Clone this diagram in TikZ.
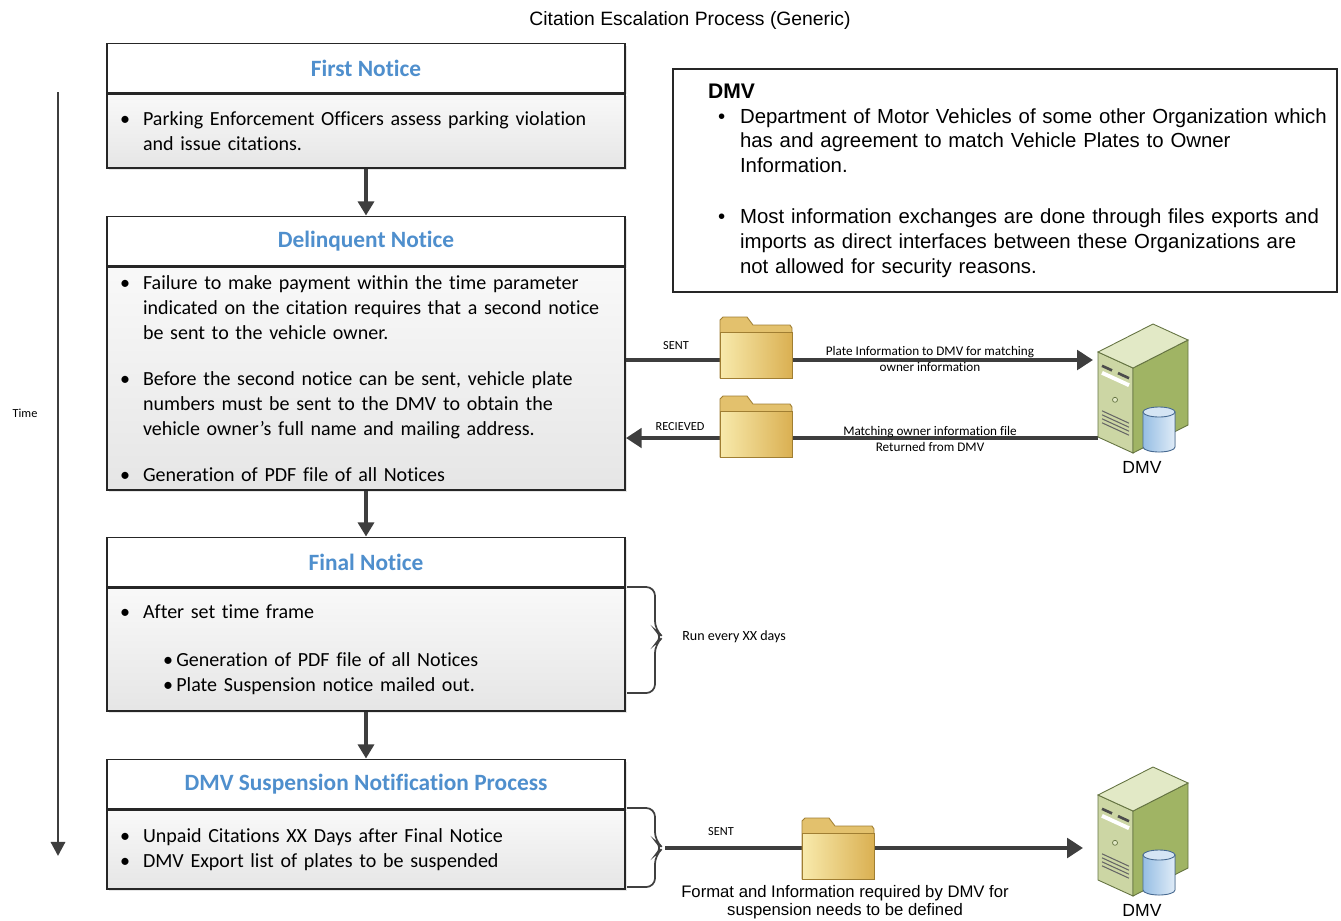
\documentclass[tikz,border=0pt]{standalone}
\usepackage{fontspec}
\setmainfont{Carlito}[Ligatures=NoCommon]
\newfontfamily\arialfont{Liberation Sans}
\usetikzlibrary{arrows.meta}
\usetikzlibrary{positioning}
\usetikzlibrary{shadows}
\definecolor{headBlue}{RGB}{79,143,205}
\definecolor{flowGray}{RGB}{62,62,62}
\definecolor{folderLight}{RGB}{248,234,172}
\definecolor{folderDark}{RGB}{218,176,82}
\definecolor{folderEdge}{RGB}{160,126,50}
\definecolor{srvFront}{RGB}{204,214,164}
\definecolor{srvSide}{RGB}{160,180,100}
\definecolor{srvTop}{RGB}{226,233,198}
\definecolor{srvEdge}{RGB}{100,115,65}
\definecolor{cylBlue}{RGB}{150,190,228}
\definecolor{cylEdge}{RGB}{70,105,145}
\newcommand{\bul}{\makebox[0.52cm][l]{\hspace{0.06cm}\textbullet}}
\newcommand{\ind}{\hspace*{0.52cm}}
\newcommand{\dul}{\makebox[1.24cm][l]{\hspace{0.8cm}\textbullet}}
\newcommand{\dind}{\hspace*{1.24cm}}
\tikzset{stepHead/.style={draw=black!85, line width=1.1pt, fill=white, minimum width=10.36cm, minimum height=0.98cm, font=\fontsize{13.3}{15}\selectfont\bfseries, text=headBlue, drop shadow={opacity=0.2,shadow xshift=0.04cm,shadow yshift=-0.04cm}}}
\tikzset{stepBody/.style={draw=black!85, line width=1.1pt, top color=gray!5, bottom color=gray!20, minimum width=10.36cm, text width=9.96cm, inner xsep=0.2cm, align=left, font=\fontsize{11.4}{14.2}\selectfont, drop shadow={opacity=0.2,shadow xshift=0.04cm,shadow yshift=-0.04cm}}}
\tikzset{flow/.style={draw=flowGray, line width=2.2pt, -{Triangle[length=8pt,width=9pt]}}}
\tikzset{transfer/.style={draw=flowGray, line width=2.6pt, -{Triangle[length=9pt,width=11pt]}}}
\tikzset{tinyLabel/.style={font=\fontsize{7}{8.5}\selectfont, inner sep=0pt, align=center}}
\tikzset{braceLine/.style={draw=black!75, line width=1pt, rounded corners=5pt}}
\tikzset{srvLabel/.style={font=\arialfont\fontsize{10}{12}\selectfont, inner sep=0pt}}
\tikzset{folder/.pic={
  \filldraw[fill=folderDark!70!folderLight, draw=folderEdge, line width=0.5pt] (0,61) -- (0,3) -- (3,0) -- (27,0) -- (33,8) -- (70,8) -- (72,11) -- (72,61) -- cycle;
  \filldraw[left color=folderLight, right color=folderDark, draw=folderEdge, line width=0.5pt] (0,15) -- (72,15) -- (72,61) -- (0,61) -- cycle;
}}
\tikzset{server/.pic={
  \filldraw[fill=srvFront, draw=srvEdge, line width=0.5pt] (0,0) -- (35,16) -- (35,101) -- (0,85) -- cycle;
  \filldraw[fill=srvSide, draw=srvEdge, line width=0.5pt] (35,16) -- (90,-12) -- (90,73) -- (35,101) -- cycle;
  \filldraw[fill=srvTop, draw=srvEdge, line width=0.5pt] (0,0) -- (55,-28) -- (90,-12) -- (35,16) -- cycle;
  % drive bays
  \draw[white, line width=2.2pt] (4,20.8) -- (31,33.2);
  \draw[black!70, line width=1.5pt] (4,13.8) -- (14,18.4) (20,21.1) -- (31,26.2);
  \filldraw[fill=srvTop, draw=srvEdge] (17,47.8) circle[radius=0.05cm];
  \foreach \v in {57,61,65,69} \draw[black!60, line width=0.6pt] (4,1.8+\v) -- (31,14.2+\v);
  % database
  \filldraw[left color=cylBlue, right color=cylBlue!30!white, draw=cylEdge, line width=0.5pt] (45,60) -- (45,95) arc[start angle=180, end angle=360, x radius=0.32cm, y radius=0.1cm] -- (77,60) -- cycle;
  \filldraw[fill=cylBlue!40!white, draw=cylEdge, line width=0.5pt] (61,60) ellipse[x radius=0.32cm, y radius=0.1cm];
}}

\begin{document}
\begin{tikzpicture}[x=0.02cm, y=-0.02cm]
\useasboundingbox (0,0) rectangle (1341,920);

\node[font=\arialfont\fontsize{11}{13}\selectfont] (title) at (690,20) {Citation Escalation Process (Generic)};

% time axis
\coordinate (timeTop) at (58,92);
\coordinate (timeEnd) at (58,856);
\draw[draw=flowGray, line width=1.7pt, -{Triangle[length=8pt,width=8pt]}] (timeTop) -- (timeEnd);
\node[tinyLabel] (timeLabel) at (25,413) {Time};

% notices
\node[stepHead] (firstHead) at (366,68) {First Notice};
\node[stepBody, minimum height=1.48cm, below=0pt of firstHead] (firstBody) {\bul Parking Enforcement Officers assess parking violation\\ \ind and issue citations.};

\node[stepHead] (delinqHead) at (366,241) {Delinquent Notice};
\node[stepBody, minimum height=4.46cm, below=0pt of delinqHead] (delinqBody) {\bul Failure to make payment within the time parameter\\
  \ind indicated on the citation requires that a second notice\\
  \ind be sent to the vehicle owner.\\[12pt]
  \bul Before the second notice can be sent, vehicle plate\\
  \ind numbers must be sent to the DMV to obtain the\\
  \ind vehicle owner’s full name and mailing address.\\[12pt]
  \bul Generation of PDF file of all Notices};

\node[stepHead] (finalHead) at (366,562) {Final Notice};
\node[stepBody, minimum height=2.46cm, below=0pt of finalHead] (finalBody) {\bul After set time frame\\[13pt]
  \ind\hspace*{0.4cm}\textbullet\,Generation of PDF file of all Notices\\
  \ind\hspace*{0.4cm}\textbullet\,Plate Suspension notice mailed out.};

\node[stepHead] (susHead) at (366,784) {DMV Suspension Notification Process};
\node[stepBody, minimum height=1.58cm, below=0pt of susHead] (susBody) {\bul Unpaid Citations XX Days after Final Notice\\
  \bul DMV Export list of plates to be suspended};

\draw[flow] (firstBody.south) -- (delinqHead.north);
\draw[flow] (delinqBody.south) -- (finalHead.north);
\draw[flow] (finalBody.south) -- (susHead.north);

% DMV explanation
\node[draw=black!85, line width=0.8pt, minimum width=13.28cm, minimum height=4.46cm, text width=13.08cm, inner xsep=0.1cm, align=left, font=\arialfont\fontsize{11.6}{14.2}\selectfont] (dmvInfo) at (1005,180.5) {\hspace*{0.6cm}{\bfseries\fontsize{12}{14.2}\selectfont DMV}\\
  \dul Department of Motor Vehicles of some other Organization which\\
  \dind has and agreement to match Vehicle Plates to Owner\\
  \dind Information.\\[14.5pt]
  \dul Most information exchanges are done through files exports and\\
  \dind imports as direct interfaces between these Organizations are\\
  \dind not allowed for security reasons.};

% exchange with DMV
\coordinate (sentTip) at (1093,360);
\draw[transfer] (delinqBody.east |- sentTip) -- (sentTip);
\coordinate (recvStart) at (1098,438);
\draw[transfer] (recvStart) -- (delinqBody.east |- recvStart);
\node[tinyLabel] (sentLabel) at (676,346) {SENT};
\node[tinyLabel] (recvLabel) at (680,427) {RECIEVED};
\node[tinyLabel, font=\fontsize{7.5}{9}\selectfont] (sentNote) at (930,359) {Plate Information to DMV for matching\\owner information};
\node[tinyLabel, font=\fontsize{7.5}{9}\selectfont] (recvNote) at (930,439) {Matching owner information file\\Returned from DMV};
\pic (folderSent) at (720,317) {folder};
\pic (folderRecv) at (720,396) {folder};
\pic (dmvOne) at (1098,352) {server};
\node[srvLabel] (dmvOneLabel) at (1142,467) {DMV};

% run cycle
\draw[braceLine] (627,587) -- (655,587) -- (655,630) -- (663,637) -- (655,644) -- (655,693) -- (627,693);
\node[tinyLabel, font=\fontsize{8}{9}\selectfont, anchor=west] (runLabel) at (682,637) {Run every XX days};

% suspension export
\draw[braceLine] (627,808) -- (655,808) -- (655,841) -- (663,848) -- (655,855) -- (655,887) -- (627,887);
\coordinate (susTip) at (665,848);
\coordinate (susTarget) at (1083,848);
\draw[transfer] (susTip) -- (susTarget);
\node[tinyLabel] (susSent) at (721,832) {SENT};
\pic (folderSus) at (802,818) {folder};
\node[font=\arialfont\fontsize{9.5}{10.2}\selectfont, align=center, inner sep=0pt] (susNote) at (845,902) {Format and Information required by DMV for\\suspension needs to be defined};
\pic (dmvTwo) at (1098,795) {server};
\node[srvLabel] (dmvTwoLabel) at (1142,910) {DMV};
\end{tikzpicture}
\end{document}
